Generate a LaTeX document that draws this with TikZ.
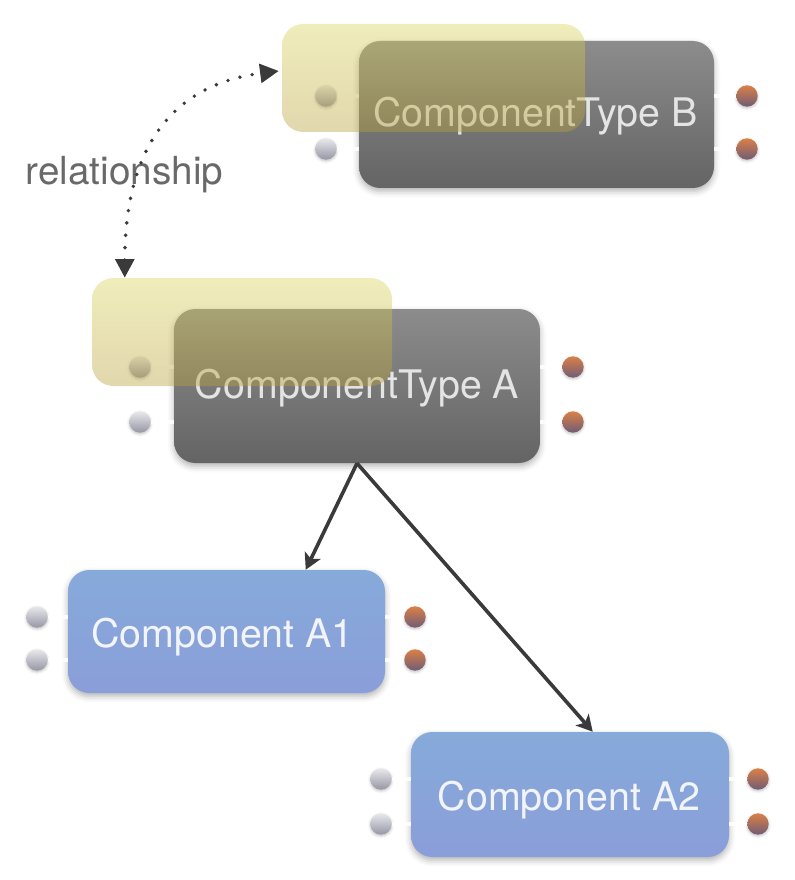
\documentclass[tikz,border=0pt]{standalone}
\usepackage{fontspec}
\setmainfont{TeX Gyre Heros}
\usetikzlibrary{arrows.meta,shadows.blur,calc}
\definecolor{darktop}{RGB}{140,140,140}
\definecolor{darkbot}{RGB}{100,100,100}
\definecolor{yeltop}{RGB}{217,212,92}
\definecolor{yelbot}{RGB}{185,160,60}
\definecolor{bluetop}{RGB}{134,170,218}
\definecolor{bluebot}{RGB}{138,158,217}
\definecolor{intop}{RGB}{232,232,236}
\definecolor{inbot}{RGB}{150,150,165}
\definecolor{outtop}{RGB}{218,128,70}
\definecolor{outbot}{RGB}{112,92,118}
\definecolor{arrowgray}{RGB}{58,58,58}
\definecolor{dtext}{RGB}{228,228,228}
\definecolor{btext}{RGB}{242,244,250}
\definecolor{rtext}{RGB}{105,105,105}
\begin{document}
\begin{tikzpicture}[x=0.75pt,y=-0.75pt,
  box/.style={rectangle, rounded corners=16pt, draw=none, inner sep=0pt,
    blur shadow={shadow xshift=0pt, shadow yshift=-2.5pt, shadow blur radius=4.5pt, shadow opacity=30}},
  darkbox/.style={box, top color=darktop, bottom color=darkbot},
  bluebox/.style={box, top color=bluetop, bottom color=bluebot},
  yelbox/.style={rectangle, rounded corners=16pt, draw=none, inner sep=0pt,
    top color=yeltop, bottom color=yelbot, fill opacity=0.42},
  port/.style={circle, inner sep=0pt, minimum size=16pt, draw=none,
    blur shadow={shadow xshift=0pt, shadow yshift=-1pt, shadow blur radius=2pt, shadow opacity=25}},
  inport/.style={port, top color=intop, bottom color=inbot},
  outport/.style={port, top color=outtop, bottom color=outbot},
  stub/.style={draw=white, line width=3pt, opacity=0.85},
  lbl/.style={anchor=base, inner sep=0pt, font=\fontsize{29.5pt}{34pt}\selectfont},
  flow/.style={draw=arrowgray, line width=2.7pt, -{Stealth[length=12pt,width=13pt,inset=3pt]}},
  relline/.style={draw=arrowgray, line width=2.9pt, line cap=round, dash pattern=on 0pt off 9.3pt,
    {Triangle[length=14pt,width=14pt]}-{Triangle[length=14pt,width=14pt]}}
]
\useasboundingbox (0,0) rectangle (794,880);

% ---------- ComponentType B ----------
\node[inport]  (bl1) at (326,96) {};
\node[inport]  (bl2) at (326,149) {};
\node[outport] (br1) at (747,96) {};
\node[outport] (br2) at (747,149) {};
\node[darkbox, minimum width=266.25pt, minimum height=110.25pt] (tb) at (536.5,114.5) {};
\draw[stub] (bl1) -- (bl1 -| tb.west);
\draw[stub] (bl2) -- (bl2 -| tb.west);
\draw[stub] (br1) -- (br1 -| tb.east);
\draw[stub] (br2) -- (br2 -| tb.east);
\node[lbl, text=dtext] (tbt) at (535.5,127) {ComponentType B};
\node[yelbox, minimum width=227.25pt, minimum height=81pt] (yb) at (433.5,78) {};

% ---------- ComponentType A ----------
\node[inport]  (al1) at (140,367) {};
\node[inport]  (al2) at (140,422) {};
\node[outport] (ar1) at (573,367) {};
\node[outport] (ar2) at (573,422) {};
\node[darkbox, minimum width=274.5pt, minimum height=115.5pt] (ta) at (357,386) {};
\draw[stub] (al1) -- (al1 -| ta.west);
\draw[stub] (al2) -- (al2 -| ta.west);
\draw[stub] (ar1) -- (ar1 -| ta.east);
\draw[stub] (ar2) -- (ar2 -| ta.east);
\node[lbl, text=dtext] (tat) at (357,398) {ComponentType A};
\node[yelbox, minimum width=225pt, minimum height=81pt] (ya) at (242,332) {};

% ---------- Component A1 ----------
\node[inport]  (cl1) at (37,617) {};
\node[inport]  (cl2) at (37,660) {};
\node[outport] (cr1) at (415,617) {};
\node[outport] (cr2) at (415,660) {};
\node[bluebox, minimum width=237.75pt, minimum height=92.25pt] (a1) at (226.5,631.5) {};
\draw[stub] (cl1) -- (cl1 -| a1.west);
\draw[stub] (cl2) -- (cl2 -| a1.west);
\draw[stub] (cr1) -- (cr1 -| a1.east);
\draw[stub] (cr2) -- (cr2 -| a1.east);
\node[lbl, text=btext] (a1t) at (222.5,647) {Component A1};

% ---------- Component A2 ----------
\node[inport]  (dl1) at (381,779) {};
\node[inport]  (dl2) at (381,824) {};
\node[outport] (dr1) at (758,779) {};
\node[outport] (dr2) at (758,824) {};
\node[bluebox, minimum width=238.5pt, minimum height=93.75pt] (a2) at (570,794.5) {};
\draw[stub] (dl1) -- (dl1 -| a2.west);
\draw[stub] (dl2) -- (dl2 -| a2.west);
\draw[stub] (dr1) -- (dr1 -| a2.east);
\draw[stub] (dr2) -- (dr2 -| a2.east);
\node[lbl, text=btext] (a2t) at (569,810) {Component A2};

% ---------- relationship ----------
\node[lbl, text=rtext, font=\fontsize{29pt}{34pt}\selectfont] (rel) at (124.5,185) {relationship};
\coordinate (ra) at ($(ya.north west)+(33,0)$);
\coordinate (rb) at ($(yb.west)+(-3,-7)$);
\draw[relline] (ra) .. controls (125,150) and (170,85) .. (rb);

% ---------- inheritance arrows ----------
\coordinate (a1in) at ($(a1.north west)+(238,0)$);
\coordinate (a2in) at ($(a2.north west)+(182,0)$);
\draw[flow] (ta.south) -- (a1in);
\draw[flow] (ta.south) -- (a2in);
\end{tikzpicture}
\end{document}
